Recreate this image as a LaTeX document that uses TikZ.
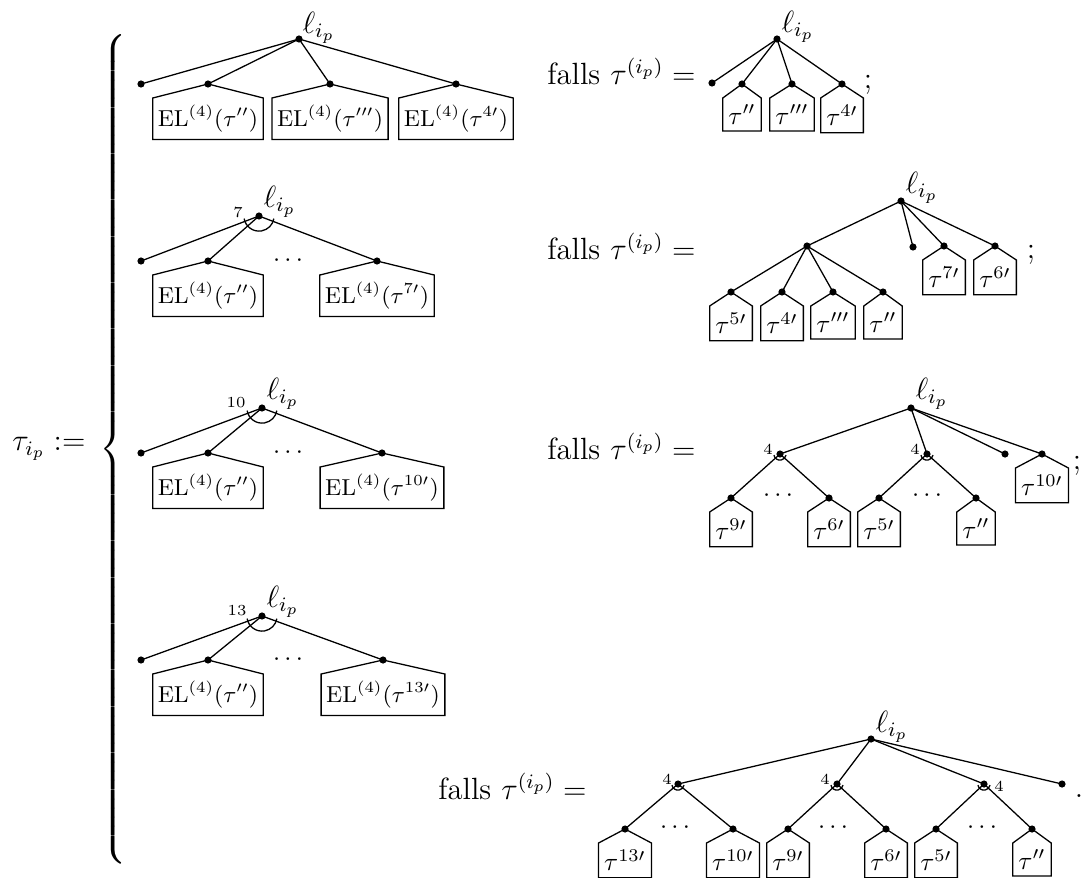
\documentclass[tikz,border=0pt]{standalone}
\usepackage{exscale}
\usetikzlibrary{calc}

% house-shaped subtree box hanging below the dot #2
\newcommand\housebox[4][]{%
  \node[leafbox,#1] (#3) at ($(#2)+(0,14)$) {#4};
  \draw[edge] (#3.south west) -- (#3.north west) -- (#2.center)
    -- (#3.north east) -- (#3.south east) -- cycle;}
% arc below a vertex marking a bundle of edges
\newcommand\fanarc[2]{%
  \draw[edge] ([shift={(190:#2)}]#1.center) arc[start angle=190, end angle=350, radius=#2];}

\begin{document}
\begin{tikzpicture}[x=0.390625pt, y=-0.390625pt,
  edge/.style={line width=0.5pt},
  dot/.style={circle, fill=black, inner sep=0pt, minimum size=2.8pt},
  leafbox/.style={inner xsep=2pt, inner ysep=2.5pt, anchor=north},
  elbox/.style={font=\small, inner xsep=1.8pt, inner ysep=2.6pt},
  rootlbl/.style={anchor=base west, inner sep=0pt, font=\large},
  multi/.style={font=\fontsize{6}{7}\selectfont, inner sep=0pt},
  eqtext/.style={anchor=base east, inner sep=0pt, font=\large},
  dotsnode/.style={inner sep=0pt},
  punct/.style={inner sep=0pt, font=\large}]
\useasboundingbox (0,0) rectangle (1088,877);

% left-hand side
\node[anchor=base east, inner sep=0pt, font=\large] (lhs) at (86,450.7) {$\tau_{i_p} :=$};
\node[anchor=west, inner sep=0pt, font=\large] (brace) at (99,449) {$\left\{\vcenter to 329pt{\vfil}\right.$};

% ---------- case 1 ----------
\node[dot] (a0) at (299,39) {};
\node[rootlbl] (a0l) at (302,33) {$\ell_{i_p}$};
\node[dot] (a1) at (141,84) {};
\node[dot] (a2) at (208,84) {};
\node[dot] (a3) at (330,84) {};
\node[dot] (a4) at (456,84) {};
\foreach \c in {a1,a2,a3,a4} \draw[edge] (a0.center) -- (\c.center);
\housebox[elbox]{a2}{a2b}{$\mathrm{EL}^{(4)}(\tau'')$}
\housebox[elbox]{a3}{a3b}{$\mathrm{EL}^{(4)}(\tau''')$}
\housebox[elbox]{a4}{a4b}{$\mathrm{EL}^{(4)}(\tau^{4\prime})$}

\node[eqtext] (t1) at (696,84.7) {falls $\tau^{(i_p)} =$};

\node[dot] (e0) at (777,39) {};
\node[rootlbl] (e0l) at (781,32) {$\ell_{i_p}$};
\node[dot] (e1) at (712,83) {};
\node[dot] (e2) at (742,84) {};
\node[dot] (e3) at (792,84) {};
\node[dot] (e4) at (842,84) {};
\foreach \c in {e1,e2,e3,e4} \draw[edge] (e0.center) -- (\c.center);
\housebox{e2}{e2b}{$\tau''$}
\housebox{e3}{e3b}{$\tau'''$}
\housebox{e4}{e4b}{$\tau^{4\prime}$}
\node[punct] (p1) at (868,85) {;};

% ---------- case 2 ----------
\node[dot] (b0) at (259,216) {};
\node[rootlbl] (b0l) at (263,207) {$\ell_{i_p}$};
\fanarc{b0}{5.9pt}
\node[multi] (b0n) at (238,212) {7};
\node[dot] (b1) at (141,261) {};
\node[dot] (b2) at (208,261) {};
\node[dot] (b3) at (377,261) {};
\node[dotsnode] (b23) at (288,261) {$\cdots$};
\foreach \c in {b1,b2,b3} \draw[edge] (b0.center) -- (\c.center);
\housebox[elbox]{b2}{b2b}{$\mathrm{EL}^{(4)}(\tau'')$}
\housebox[elbox]{b3}{b3b}{$\mathrm{EL}^{(4)}(\tau^{7\prime})$}

\node[eqtext] (t2) at (696,259.7) {falls $\tau^{(i_p)} =$};

\node[dot] (f0) at (901,201) {};
\node[rootlbl] (f0l) at (905,193) {$\ell_{i_p}$};
\node[dot] (f1) at (807,246) {};
\node[dot] (f2) at (913,247) {};
\node[dot] (f3) at (944,246) {};
\node[dot] (f4) at (995,246) {};
\foreach \c in {f1,f2,f3,f4} \draw[edge] (f0.center) -- (\c.center);
\node[dot] (f5) at (731,292) {};
\node[dot] (f6) at (782,292) {};
\node[dot] (f7) at (833,292) {};
\node[dot] (f8) at (883,292) {};
\foreach \c in {f5,f6,f7,f8} \draw[edge] (f1.center) -- (\c.center);
\housebox{f3}{f3b}{$\tau^{7\prime}$}
\housebox{f4}{f4b}{$\tau^{6\prime}$}
\housebox{f5}{f5b}{$\tau^{5\prime}$}
\housebox{f6}{f6b}{$\tau^{4\prime}$}
\housebox{f7}{f7b}{$\tau'''$}
\housebox{f8}{f8b}{$\tau''$}
\node[punct] (p2) at (1031,255) {;};

% ---------- case 3 ----------
\node[dot] (c0) at (262,408) {};
\node[rootlbl] (c0l) at (266,399) {$\ell_{i_p}$};
\fanarc{c0}{5.9pt}
\node[multi] (c0n) at (236,403) {10};
\node[dot] (c1) at (141,453) {};
\node[dot] (c2) at (208,453) {};
\node[dot] (c3) at (382,453) {};
\node[dotsnode] (c23) at (288,453) {$\cdots$};
\foreach \c in {c1,c2,c3} \draw[edge] (c0.center) -- (\c.center);
\housebox[elbox]{c2}{c2b}{$\mathrm{EL}^{(4)}(\tau'')$}
\housebox[elbox]{c3}{c3b}{$\mathrm{EL}^{(4)}(\tau^{10\prime})$}

\node[eqtext] (t3) at (696,459.7) {falls $\tau^{(i_p)} =$};

\node[dot] (g0) at (911,408) {};
\node[rootlbl] (g0l) at (915,399) {$\ell_{i_p}$};
\node[dot] (g1) at (780,454) {};
\node[dot] (g2) at (927,454) {};
\node[dot] (g3) at (1005,454) {};
\node[dot] (g4) at (1042,454) {};
\foreach \c in {g1,g2,g3,g4} \draw[edge] (g0.center) -- (\c.center);
\fanarc{g1}{2.4pt}
\fanarc{g2}{2.4pt}
\node[multi] (g1n) at (768,449) {4};
\node[multi] (g2n) at (915,449) {4};
\node[dot] (g5) at (731,498) {};
\node[dot] (g6) at (829,498) {};
\node[dot] (g7) at (879,498) {};
\node[dot] (g8) at (976,498) {};
\node[dotsnode] (g56) at (778,496) {$\cdots$};
\node[dotsnode] (g78) at (927,496) {$\cdots$};
\foreach \c in {g5,g6} \draw[edge] (g1.center) -- (\c.center);
\foreach \c in {g7,g8} \draw[edge] (g2.center) -- (\c.center);
\housebox{g4}{g4b}{$\tau^{10\prime}$}
\housebox{g5}{g5b}{$\tau^{9\prime}$}
\housebox{g6}{g6b}{$\tau^{6\prime}$}
\housebox{g7}{g7b}{$\tau^{5\prime}$}
\housebox{g8}{g8b}{$\tau''$}
\node[punct] (p3) at (1077,466) {;};

% ---------- case 4 ----------
\node[dot] (d0) at (262,616) {};
\node[rootlbl] (d0l) at (266,607) {$\ell_{i_p}$};
\fanarc{d0}{5.9pt}
\node[multi] (d0n) at (237,611) {13};
\node[dot] (d1) at (141,660) {};
\node[dot] (d2) at (208,660) {};
\node[dot] (d3) at (383,660) {};
\node[dotsnode] (d23) at (288,660) {$\cdots$};
\foreach \c in {d1,d2,d3} \draw[edge] (d0.center) -- (\c.center);
\housebox[elbox]{d2}{d2b}{$\mathrm{EL}^{(4)}(\tau'')$}
\housebox[elbox]{d3}{d3b}{$\mathrm{EL}^{(4)}(\tau^{13\prime})$}

\node[eqtext] (t4) at (587,799.7) {falls $\tau^{(i_p)} =$};

\node[dot] (h0) at (871,739) {};
\node[rootlbl] (h0l) at (875,732) {$\ell_{i_p}$};
\node[dot] (h1) at (678,784) {};
\node[dot] (h2) at (837,784) {};
\node[dot] (h3) at (984,784) {};
\node[dot] (h4) at (1062,784) {};
\foreach \c in {h1,h2,h3,h4} \draw[edge] (h0.center) -- (\c.center);
\fanarc{h1}{2.4pt}
\fanarc{h2}{2.4pt}
\fanarc{h3}{2.4pt}
\node[multi] (h1n) at (667,779) {4};
\node[multi] (h2n) at (825,779) {4};
\node[multi] (h3n) at (999,786) {4};
\node[dot] (h5) at (625,829) {};
\node[dot] (h6) at (733,829) {};
\node[dot] (h7) at (788,829) {};
\node[dot] (h8) at (886,829) {};
\node[dot] (h9) at (936,829) {};
\node[dot] (h10) at (1032,829) {};
\node[dotsnode] (h56) at (675,828) {$\cdots$};
\node[dotsnode] (h78) at (833,828) {$\cdots$};
\node[dotsnode] (h910) at (982,828) {$\cdots$};
\foreach \c in {h5,h6} \draw[edge] (h1.center) -- (\c.center);
\foreach \c in {h7,h8} \draw[edge] (h2.center) -- (\c.center);
\foreach \c in {h9,h10} \draw[edge] (h3.center) -- (\c.center);
\housebox{h5}{h5b}{$\tau^{13\prime}$}
\housebox{h6}{h6b}{$\tau^{10\prime}$}
\housebox{h7}{h7b}{$\tau^{9\prime}$}
\housebox{h8}{h8b}{$\tau^{6\prime}$}
\housebox{h9}{h9b}{$\tau^{5\prime}$}
\housebox{h10}{h10b}{$\tau''$}
\node[punct] (p4) at (1079,796) {.};
\end{tikzpicture}
\end{document}
